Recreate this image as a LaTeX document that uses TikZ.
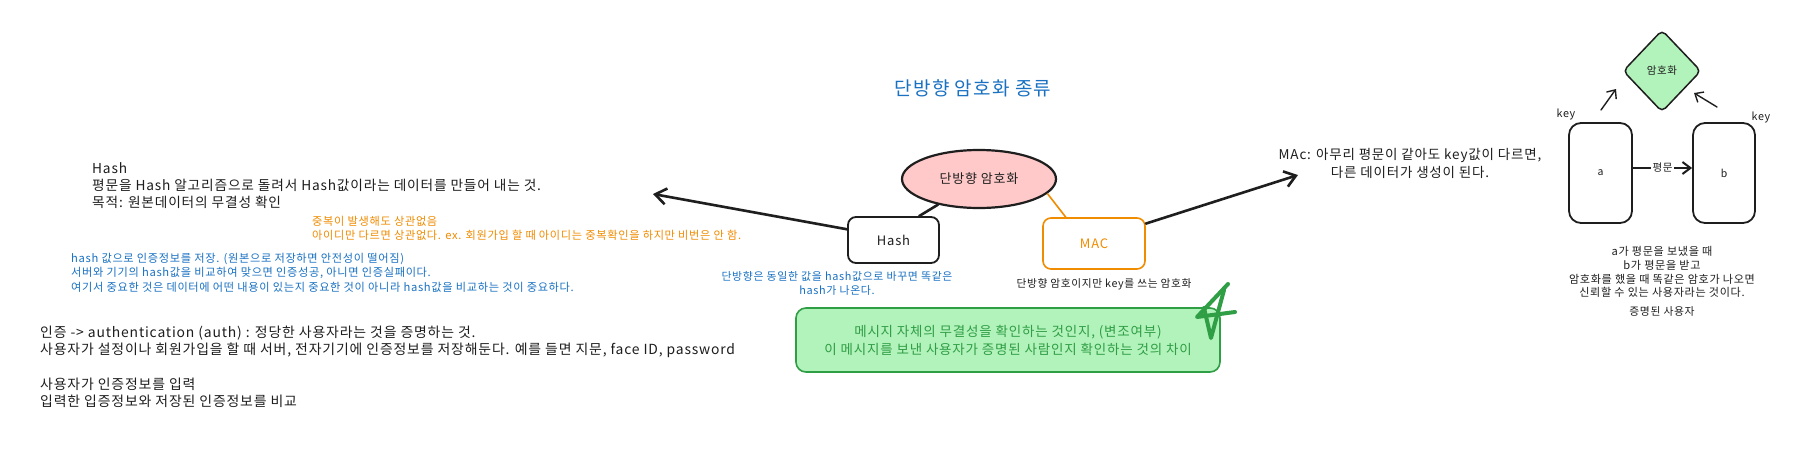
\documentclass[tikz,border=0pt]{standalone}
\usepackage{fontspec}
\setmainfont{Noto Sans CJK KR}[LetterSpace=6]
\usetikzlibrary{arrows.meta,shapes.geometric,calc}
\definecolor{ink}{HTML}{1E1E1E}
\definecolor{eblue}{HTML}{1971C2}
\definecolor{eorange}{HTML}{F08C00}
\definecolor{egreen}{HTML}{2F9E44}
\definecolor{egreenfill}{HTML}{B2F2BB}
\definecolor{epink}{HTML}{FFC9C9}
\newcommand\fsz[2]{\fontsize{#1pt}{#2pt}\selectfont}
\begin{document}
\begin{tikzpicture}[x=1pt,y=-1pt,
  txt/.style={inner sep=0pt, text=ink},
  body/.style={txt, font=\fsz{13.7}{16.8}, align=left, anchor=north west},
  small/.style={inner sep=0pt, text=ink, font=\fsz{10.8}{14.3}},
  box/.style={draw=ink, line width=1.8pt, rounded corners=8pt, font=\fsz{13}{16}, text=ink},
  conn/.style={line width=2.6pt, draw=ink, line cap=round},
  arr/.style={conn, -{Straight Barb[length=11pt,width=16pt]}},
  thinarr/.style={draw=ink, line width=1.4pt, line cap=round, -{Straight Barb[length=7pt,width=12pt]}},
]
\useasboundingbox (0,0) rectangle (1807,453);
\fill[white] (0,0) rectangle (1807,453);

% title
\node[txt, text=eblue, font=\fsz{19}{22}] (title) at (973,88) {단방향 암호화 종류};

% left text blocks
\node[body] (hashtxt) at (92,162.7) {Hash\\평문을 Hash 알고리즘으로 돌려서 Hash값이라는 데이터를 만들어 내는 것.\\목적: 원본데이터의 무결성 확인};
\node[small, text=eorange, align=left, anchor=north west, font=\fsz{11.2}{13.8}] (dup) at (312,216) {중복이 발생해도 상관없음\\아이디만 다르면 상관없다. ex. 회원가입 할 때 아이디는 중복확인을 하지만 비번은 안 함.};
\node[small, text=eblue, align=left, anchor=north west, font=\fsz{11.2}{14.5}] (store) at (71,253) {hash 값으로 인증정보를 저장. (원본으로 저장하면 안전성이 떨어짐)\\서버와 기기의 hash값을 비교하여 맞으면 인증성공, 아니면 인증실패이다.\\여기서 중요한 것은 데이터에 어떤 내용이 있는지 중요한 것이 아니라 hash값을 비교하는 것이 중요하다.};
\node[body, font=\fsz{13.9}{17.4}] (authtxt) at (40,325.5) {인증 -> authentication (auth) : 정당한 사용자라는 것을 증명하는 것.\\사용자가 설정이나 회원가입을 할 때 서버, 전자기기에 인증정보를 저장해둔다. 예를 들면 지문, face ID, password\\[17.4pt]사용자가 인증정보를 입력\\입력한 입증정보와 저장된 인증정보를 비교};

% central graph
\node[ellipse, draw=ink, line width=2.2pt, fill=epink, minimum width=154pt, minimum height=58pt, inner sep=0pt, font=\fsz{13}{16}, text=ink] (ow) at (979,179) {단방향 암호화};
\node[box, minimum width=91pt, minimum height=46pt] (hash) at (893.5,240) {Hash};
\node[box, draw=eorange, line width=1.6pt, text=eorange, minimum width=102pt, minimum height=51pt] (mac) at (1094,243.5) {MAC};

\draw[conn] (ow.212) -- (hash.43);
\draw[eorange, line width=1.6pt] (ow.-12) -- (mac.137);

\coordinate (hashtip) at (653,194);
\coordinate (mactip) at (1298,175);
\draw[arr] (hash.167) -- (hashtip);
\draw[arr] (mac.21) -- (mactip);

\node[small, text=eblue, align=center, anchor=north, font=\fsz{10.9}{13.8}] (samehash) at (837,271) {단방향은 동일한 값을 hash값으로 바꾸면 똑같은\\hash가 나온다.};
\node[small, font=\fsz{10.7}{14}] (keynote) at (1104,284.5) {단방향 암호이지만 key를 쓰는 암호화};

\node[txt, align=center, anchor=north, font=\fsz{13.5}{17.5}] (mactxt) at (1410,148.5) {MAc: 아무리 평문이 같아도 key값이 다르면,\\다른 데이터가 생성이 된다.};

% green note
\node[draw=egreen, line width=1.6pt, fill=egreenfill, rounded corners=10pt, minimum width=424pt, minimum height=64pt, text=egreen, align=center, font=\fsz{13.5}{18}, inner sep=0pt] (diff) at (1008,340) {메시지 자체의 무결성을 확인하는 것인지, (변조여부)\\이 메시지를 보낸 사용자가 증명된 사람인지 확인하는 것의 차이};

% scribble
\draw[egreen, line width=4pt, line cap=round, line join=round] (1228,284) -- (1197,317) -- (1235,312);
\draw[egreen, line width=4pt, line cap=round, line join=round] (1224,290) -- (1211,338) -- (1204,308);

% right diagram
\node[diamond, draw=ink, line width=1.5pt, fill=egreenfill, rounded corners=5pt, minimum width=78pt, minimum height=82pt, inner sep=0pt, font=\fsz{10.5}{13}, text=ink] (enc) at (1662,71) {암호화};
\node[box, rounded corners=12pt, minimum width=63pt, minimum height=100pt, font=\fsz{10.5}{13}] (a) at (1600.5,173) {a};
\node[box, rounded corners=12pt, minimum width=62pt, minimum height=100pt, font=\fsz{10.5}{13}] (b) at (1724,173) {b};
\draw[draw=ink, line width=2pt, -{Straight Barb[length=8pt,width=12pt]}] ([yshift=5pt]a.east) -- node[fill=white, inner sep=2pt, font=\fsz{10.5}{13}, text=ink] (pw) {평문} ([yshift=5pt]b.west);

\coordinate (ka1) at (1601,110);
\coordinate (ka2) at (1616,89);
\coordinate (kb1) at (1717,107);
\coordinate (kb2) at (1694,93);
\draw[thinarr] (ka1) -- (ka2);
\draw[thinarr] (kb1) -- (kb2);
\node[small] (keya) at (1566,114) {key};
\node[small] (keyb) at (1761,117) {key};

\node[small, align=center, anchor=north, font=\fsz{11.1}{13.7}] (explain) at (1662,246.5) {a가 평문을 보냈을 때\\b가 평문을 받고\\암호화를 했을 때 똑같은 암호가 나오면\\신뢰할 수 있는 사용자라는 것이다.};
\node[small] (proved) at (1662,311) {증명된 사용자};
\end{tikzpicture}
\end{document}
